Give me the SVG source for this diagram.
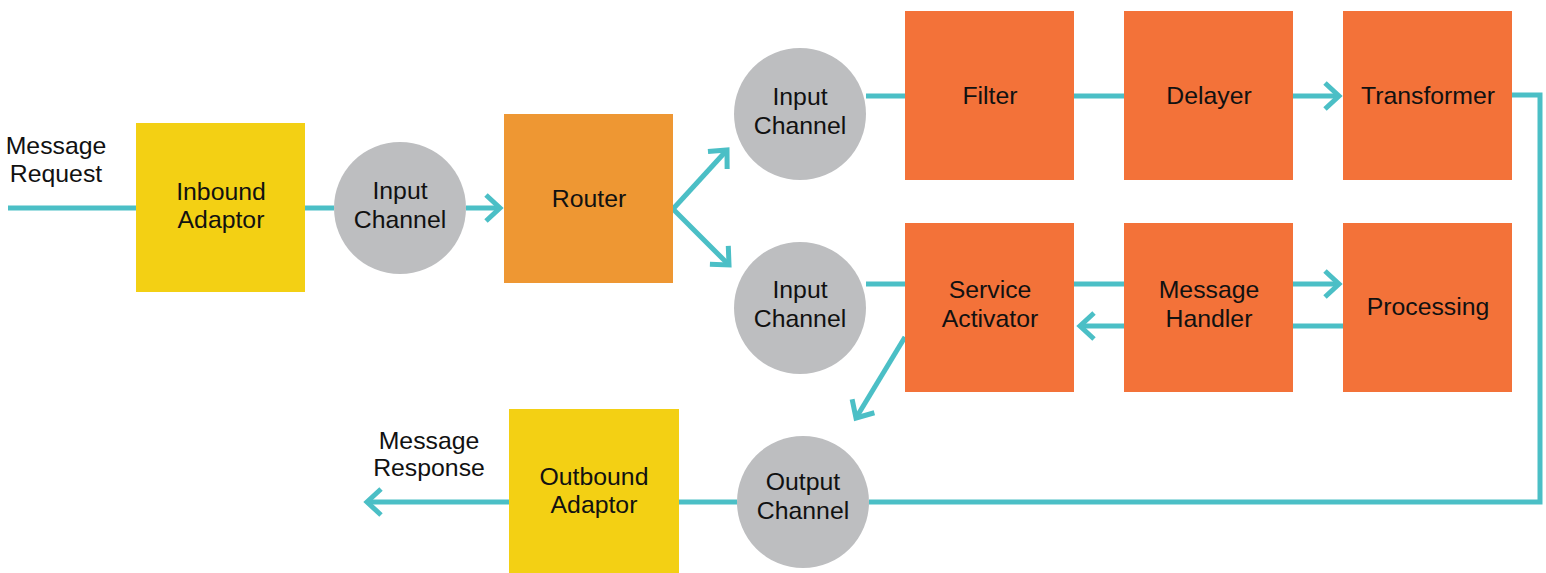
<svg xmlns="http://www.w3.org/2000/svg" width="1546" height="573" viewBox="0 0 1546 573">
<style>
.c{fill:none;stroke:#4BBFC6;stroke-width:5}
.a{marker-end:url(#ah)}
.y{fill:#F3D014}
.o{fill:#F37239}
.r{fill:#EE9733}
.g{fill:#BDBEC0}
text{font-family:"Liberation Sans",Arial,sans-serif;font-size:24.8px;fill:#111;text-anchor:middle}
</style>
<defs>
<marker id="ah" markerUnits="userSpaceOnUse" markerWidth="40" markerHeight="40" viewBox="-20 -20 40 40" refX="0" refY="0" orient="auto" overflow="visible">
<path d="M-14,-13 L0,0 L-14,13" fill="none" stroke="#4BBFC6" stroke-width="5"/>
</marker>
</defs>
<g id="connectors">
<path class="c" d="M8,208 H136"/>
<path class="c" d="M305,208 H334"/>
<path class="c a" d="M466,208 H500"/>
<path class="c a" d="M673,209 L727,150"/>
<path class="c a" d="M673,209 L729,265"/>
<path class="c" d="M866,96 H905"/>
<path class="c" d="M1074,96 H1124"/>
<path class="c a" d="M1293,96 H1339"/>
<path class="c" d="M1512,95 H1540 V502 H869"/>
<path class="c" d="M866,284 H905"/>
<path class="c" d="M1074,284 H1124"/>
<path class="c a" d="M1293,284 H1339"/>
<path class="c" d="M1343,326 H1293"/>
<path class="c a" d="M1124,326 H1080"/>
<path class="c a" d="M905,337 L856,418"/>
<path class="c" d="M737,502 H679"/>
<path class="c a" d="M509,502 H367"/>
</g>
<g id="message-request"><text x="56" y="154">Message</text><text x="56" y="182">Request</text></g>
<g id="inbound-adaptor"><rect class="y" x="136" y="123" width="169" height="169"/><text x="221" y="200">Inbound</text><text x="221" y="228">Adaptor</text></g>
<g id="input-channel-1"><circle class="g" cx="400" cy="208" r="66"/><text x="400" y="199">Input</text><text x="400" y="228">Channel</text></g>
<g id="router"><rect class="r" x="504" y="114" width="169" height="169"/><text x="589" y="207">Router</text></g>
<g id="input-channel-2"><circle class="g" cx="800" cy="114" r="66"/><text x="800" y="105">Input</text><text x="800" y="134">Channel</text></g>
<g id="input-channel-3"><circle class="g" cx="800" cy="308" r="66"/><text x="800" y="298">Input</text><text x="800" y="327">Channel</text></g>
<g id="filter"><rect class="o" x="905" y="11" width="169" height="169"/><text x="990" y="104">Filter</text></g>
<g id="delayer"><rect class="o" x="1124" y="11" width="169" height="169"/><text x="1209" y="104">Delayer</text></g>
<g id="transformer"><rect class="o" x="1343" y="11" width="169" height="169"/><text x="1428" y="104">Transformer</text></g>
<g id="service-activator"><rect class="o" x="905" y="223" width="169" height="169"/><text x="990" y="298">Service</text><text x="990" y="327">Activator</text></g>
<g id="message-handler"><rect class="o" x="1124" y="223" width="169" height="169"/><text x="1209" y="298">Message</text><text x="1209" y="327">Handler</text></g>
<g id="processing"><rect class="o" x="1343" y="223" width="169" height="169"/><text x="1428" y="315">Processing</text></g>
<g id="output-channel"><circle class="g" cx="803" cy="502" r="66"/><text x="803" y="490">Output</text><text x="803" y="519">Channel</text></g>
<g id="outbound-adaptor"><rect class="y" x="509" y="409" width="170" height="169"/><text x="594" y="485">Outbound</text><text x="594" y="513">Adaptor</text></g>
<g id="message-response"><text x="429" y="449">Message</text><text x="429" y="476">Response</text></g>
</svg>
